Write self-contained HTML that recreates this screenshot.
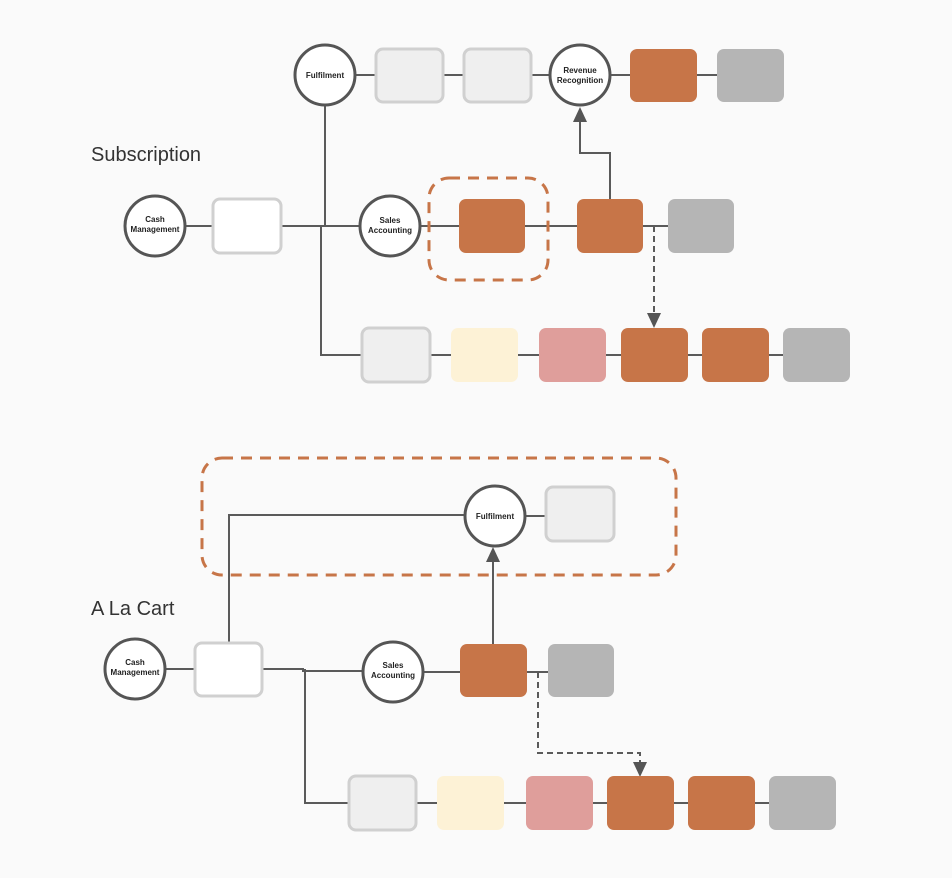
<!DOCTYPE html>
<html><head><meta charset="utf-8"><style>
html,body{margin:0;padding:0;background:#fafafa;}
svg{display:block;}
text{font-family:"Liberation Sans",sans-serif;}
.c{fill:#fff;stroke:#555;stroke-width:3;}
.l{stroke:#5a5a5a;stroke-width:2;fill:none;}
.lb{font-size:8px;font-weight:bold;fill:#222;text-anchor:middle;}
</style></head><body>
<svg width="952" height="878" viewBox="0 0 952 878" xmlns="http://www.w3.org/2000/svg">
<rect width="952" height="878" fill="#fafafa"/>
<!-- Subscription lines -->
<path class="l" d="M355 75H376 M443 75H464 M531 75H550 M610 75H630 M697 75H717"/>
<path class="l" d="M325 105V226 M185 226H213 M281 226H360 M420 226H459 M525 226H577 M643 226H668"/>
<path class="l" d="M321 226V355H362 M430 355H451 M518 355H539 M606 355H621 M688 355H702 M769 355H783"/>
<path class="l" d="M610 199V153H580V120"/>
<polygon points="573,122 587,122 580,107" fill="#555"/>
<path class="l" stroke-dasharray="6,4" d="M654 226V315"/>
<polygon points="647,313 661,313 654,328" fill="#555"/>
<rect x="429" y="178" width="119" height="102" rx="20" fill="none" stroke="#c77548" stroke-width="3" stroke-dasharray="11,8"/>
<!-- boxes top -->
<rect x="376" y="49" width="67" height="53" rx="7" fill="#efefef" stroke="#d0d0d0" stroke-width="3"/>
<rect x="464" y="49" width="67" height="53" rx="7" fill="#efefef" stroke="#d0d0d0" stroke-width="3"/>
<rect x="630" y="49" width="67" height="53" rx="7" fill="#c77548"/>
<rect x="717" y="49" width="67" height="53" rx="7" fill="#b5b5b5"/>
<rect x="213" y="199" width="68" height="54" rx="7" fill="#fff" stroke="#d0d0d0" stroke-width="3"/>
<rect x="459" y="199" width="66" height="54" rx="7" fill="#c77548"/>
<rect x="577" y="199" width="66" height="54" rx="7" fill="#c77548"/>
<rect x="668" y="199" width="66" height="54" rx="7" fill="#b5b5b5"/>
<rect x="362" y="328" width="68" height="54" rx="7" fill="#efefef" stroke="#d0d0d0" stroke-width="3"/>
<rect x="451" y="328" width="67" height="54" rx="7" fill="#fdf2d6"/>
<rect x="539" y="328" width="67" height="54" rx="7" fill="#df9e9b"/>
<rect x="621" y="328" width="67" height="54" rx="7" fill="#c77548"/>
<rect x="702" y="328" width="67" height="54" rx="7" fill="#c77548"/>
<rect x="783" y="328" width="67" height="54" rx="7" fill="#b5b5b5"/>
<circle class="c" cx="325" cy="75" r="30"/><text class="lb" x="325" y="78">Fulfilment</text>
<circle class="c" cx="580" cy="75" r="30"/><text class="lb" x="580" y="73">Revenue</text><text class="lb" x="580" y="83">Recognition</text>
<circle class="c" cx="155" cy="226" r="30"/><text class="lb" x="155" y="222">Cash</text><text class="lb" x="155" y="232">Management</text>
<circle class="c" cx="390" cy="226" r="30"/><text class="lb" x="390" y="223">Sales</text><text class="lb" x="390" y="233">Accounting</text>
<text x="91" y="161" font-size="20" fill="#333">Subscription</text>

<!-- A La Cart -->
<path class="l" d="M229 643V515H465 M525 516H546"/>
<path class="l" d="M165 669H195 M262 669H303V671H363 M423 672H460 M527 672H548"/>
<path class="l" d="M305 669V803H349 M416 803H437 M504 803H526 M593 803H607 M674 803H688 M755 803H769"/>
<path class="l" d="M493 644V560"/>
<polygon points="486,562 500,562 493,547" fill="#555"/>
<path class="l" stroke-dasharray="6,4" d="M538 672V753H640V765"/>
<polygon points="633,762 647,762 640,777" fill="#555"/>
<rect x="202" y="458" width="474" height="117" rx="20" fill="none" stroke="#c77548" stroke-width="3" stroke-dasharray="11,8"/>
<rect x="546" y="487" width="68" height="54" rx="7" fill="#efefef" stroke="#d0d0d0" stroke-width="3"/>
<rect x="195" y="643" width="67" height="53" rx="7" fill="#fff" stroke="#d0d0d0" stroke-width="3"/>
<rect x="460" y="644" width="67" height="53" rx="7" fill="#c77548"/>
<rect x="548" y="644" width="66" height="53" rx="7" fill="#b5b5b5"/>
<rect x="349" y="776" width="67" height="54" rx="7" fill="#efefef" stroke="#d0d0d0" stroke-width="3"/>
<rect x="437" y="776" width="67" height="54" rx="7" fill="#fdf2d6"/>
<rect x="526" y="776" width="67" height="54" rx="7" fill="#df9e9b"/>
<rect x="607" y="776" width="67" height="54" rx="7" fill="#c77548"/>
<rect x="688" y="776" width="67" height="54" rx="7" fill="#c77548"/>
<rect x="769" y="776" width="67" height="54" rx="7" fill="#b5b5b5"/>
<circle class="c" cx="495" cy="516" r="30"/><text class="lb" x="495" y="519">Fulfilment</text>
<circle class="c" cx="135" cy="669" r="30"/><text class="lb" x="135" y="665">Cash</text><text class="lb" x="135" y="675">Management</text>
<circle class="c" cx="393" cy="672" r="30"/><text class="lb" x="393" y="668">Sales</text><text class="lb" x="393" y="678">Accounting</text>
<text x="91" y="615" font-size="20" fill="#333">A La Cart</text>
</svg>
</body></html>
